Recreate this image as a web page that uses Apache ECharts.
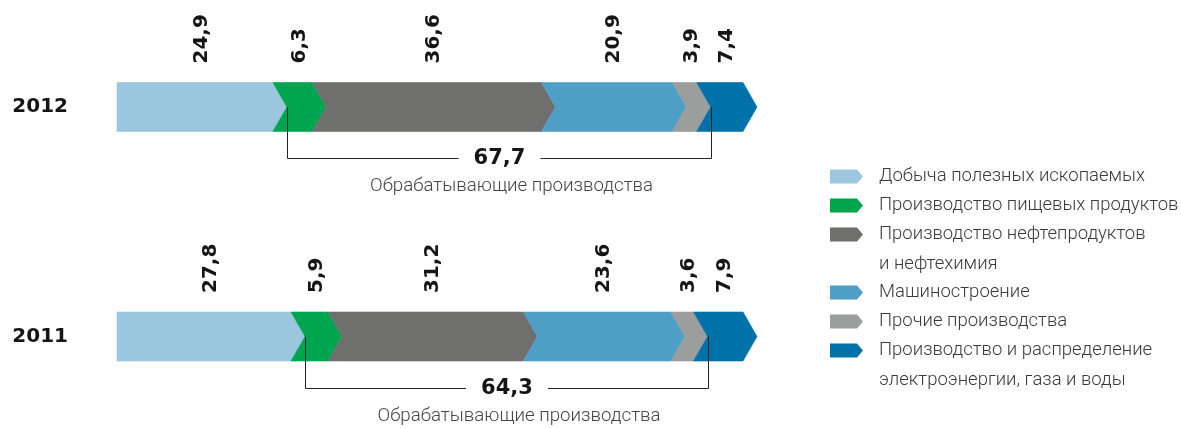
<!DOCTYPE html>
<html><head><meta charset="utf-8">
<script src="https://cdn.jsdelivr.net/npm/echarts@6/dist/echarts.min.js"></script>
<style>html,body{margin:0;padding:0;background:#fff}#c{width:1181px;height:428px}</style>
</head><body><div id="c"></div>
<script>
// ---- data ----
const years = ['2011', '2012'];
const categories = [
  'Добыча полезных ископаемых',
  'Производство пищевых продуктов',
  'Производство нефтепродуктов\nи нефтехимия',
  'Машиностроение',
  'Прочие производства',
  'Производство и распределение\nэлектроэнергии, газа и воды'
];
const values2011 = [27.8, 5.9, 31.2, 23.6, 3.6, 7.9];
const values2012 = [24.9, 6.3, 36.6, 20.9, 3.9, 7.4];
const manufacturingIdx = [1, 2, 3, 4];
const manufacturingLabel = 'Обрабатывающие производства';
const colors = ['#9ac7de', '#00a64f', '#6f6f6e', '#4f9ec6', '#9c9e9d', '#0071a9'];

// ---- helpers ----
const valuesByYear = [values2011, values2012];
const fmt = v => v.toFixed(1).replace('.', ',');
const H = 24.5, D = 14;
const NUM_FONT = 'bold 20px "DejaVu Sans", sans-serif';
const LIGHT_FAMILY = 'Roboto, "Liberation Sans", sans-serif';
const LEGEND_FONT = '300 18.5px ' + LIGHT_FAMILY;
const LEGEND_COLOR = '#3a3a3a';

function cumBefore(vals, i) { let s = 0; for (let k = 0; k < i; k++) s += vals[k]; return s; }

const segSeries = categories.map((name, ci) => ({
  type: 'custom',
  name: name,
  coordinateSystem: 'cartesian2d',
  encode: { x: 0, y: 1 },
  data: years.map((y, yi) => [cumBefore(valuesByYear[yi], ci), yi, valuesByYear[yi][ci]]),
  renderItem: function (params, api) {
    const start = api.value(0), yi = api.value(1), val = api.value(2);
    const p0 = api.coord([start, yi]);
    const p1 = api.coord([start + val, yi]);
    const yc = p0[1];
    const pts = [[p0[0], yc - H], [p1[0], yc - H], [p1[0] + D, yc], [p1[0], yc + H], [p0[0], yc + H]];
    if (ci > 0) pts.push([p0[0] + D, yc]);
    const col = api.visual('color');
    return {
      type: 'group',
      children: [
        { type: 'polygon', shape: { points: pts }, style: { fill: col, stroke: col, lineWidth: 0.6 } },
        { type: 'text', x: (p0[0] + p1[0] + D) / 2, y: yc - H - 19, rotation: Math.PI / 2,
          style: { text: fmt(val), align: 'left', verticalAlign: 'middle', font: NUM_FONT, fill: '#151515' } }
      ]
    };
  }
}));

const bracketSeries = {
  type: 'custom',
  name: 'bracket',
  coordinateSystem: 'cartesian2d',
  encode: { x: 0, y: 1 },
  z: 5,
  data: years.map((y, yi) => {
    const vals = valuesByYear[yi];
    const s = cumBefore(vals, manufacturingIdx[0]);
    let tot = 0; manufacturingIdx.forEach(k => tot += vals[k]);
    return [s, yi, s + tot, tot];
  }),
  renderItem: function (params, api) {
    const s = api.value(0), yi = api.value(1), e = api.value(2), tot = api.value(3);
    const ps = api.coord([s, yi]), pe = api.coord([e, yi]);
    const xs = Math.round(ps[0] + D) + 0.5, xe = Math.round(pe[0] + D) + 0.5;
    const yc = ps[1], yb = Math.round(yc + 51) + 0.5;
    const cx = (xs + xe) / 2;
    const lineStyle = { stroke: '#222', lineWidth: 1, fill: null };
    return {
      type: 'group',
      children: [
        { type: 'polyline', shape: { points: [[xs, yc], [xs, yb], [cx - 41, yb]] }, style: lineStyle },
        { type: 'polyline', shape: { points: [[cx + 41, yb], [xe, yb], [xe, yc]] }, style: lineStyle },
        { type: 'text', x: cx, y: yb, style: { text: fmt(tot), align: 'center', verticalAlign: 'middle', font: 'bold 21px "DejaVu Sans", sans-serif', fill: '#151515' } },
        { type: 'text', x: cx + 12, y: yb + 28, style: { text: manufacturingLabel, align: 'center', verticalAlign: 'middle', font: '300 18.7px ' + LIGHT_FAMILY, fill: '#444' } }
      ]
    };
  }
};

const legendBase = {
  orient: 'vertical', left: 830, padding: 0, itemGap: 0,
  itemWidth: 33, itemHeight: 14, selectedMode: false,
  icon: 'path://M0,0 L27,0 L33,7 L27,14 L0,14 Z',
  formatter: name => name.split('\n')[0],
  textStyle: { fontSize: 18.5, fontFamily: LIGHT_FAMILY, fontWeight: 300, color: LEGEND_COLOR, lineHeight: 29, padding: [0, 0, 0, 11] }
};

// second lines of the two-line legend entries
const secondLines = categories.filter(n => n.indexOf('\n') >= 0).map(n => n.split('\n')[1]);

const chart = echarts.init(document.getElementById('c'), null, { renderer: 'canvas' });
chart.setOption({
  animation: false,
  color: colors,
  grid: { left: 117, right: 438, top: 107, bottom: 91.5, containLabel: false },
  xAxis: { type: 'value', min: 0, max: 100, show: false },
  yAxis: {
    type: 'category', data: years, boundaryGap: false,
    axisLine: { show: false }, axisTick: { show: false }, splitLine: { show: false },
    axisLabel: { margin: 49, color: '#151515', fontSize: 20, fontWeight: 'bold', fontFamily: 'DejaVu Sans' }
  },
  legend: [
    Object.assign({}, legendBase, { top: 162, data: categories.slice(0, 3) }),
    Object.assign({}, legendBase, { top: 278, data: categories.slice(3) })
  ],
  graphic: secondLines.map((t, k) => ({
    type: 'text', left: 879, top: (k === 0 ? 264 : 380) - 9,
    style: { text: t, font: LEGEND_FONT, fill: LEGEND_COLOR }
  })),
  series: segSeries.concat([bracketSeries])
});
</script></body></html>
